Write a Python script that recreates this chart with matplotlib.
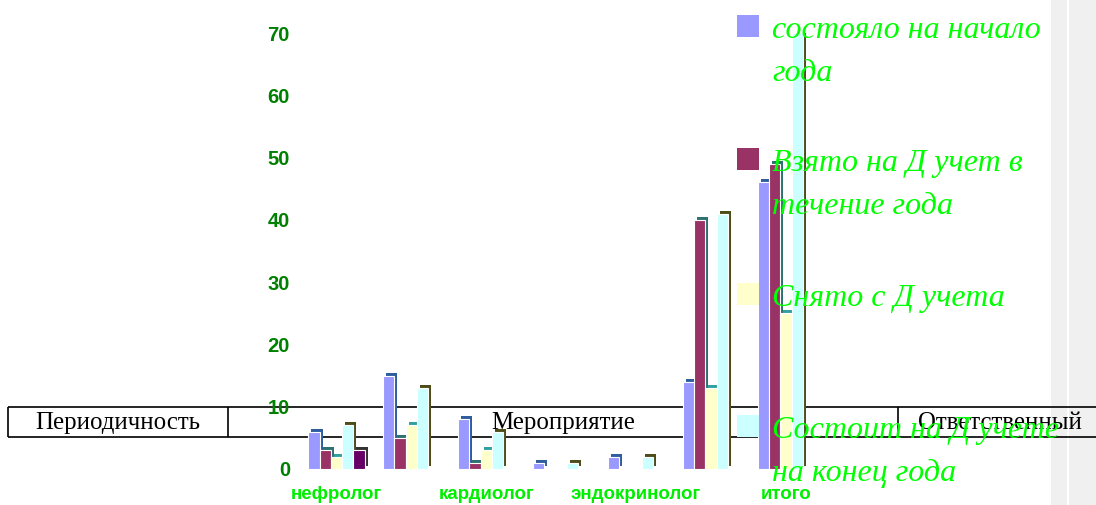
import matplotlib
matplotlib.use('Agg')
import matplotlib.pyplot as plt
from matplotlib.patches import Rectangle
import numpy as np

W, H = 1096, 505

# Chart data
categories = ['нефролог', '', 'кардиолог', '', 'эндокринолог', '', 'итого']
series_names = ['состояло на начало\nгода',
                'Взято на Д учет в\nтечение года',
                'Снято с Д учета',
                'Состоит на Д учете\nна конец года']
start_year = [6, 15, 8, 1, 2, 14, 46]
taken = [3, 5, 1, 0, 0, 40, 49]
removed = [2, 7, 3, 0, 0, 13, 25]
end_year = [7, 13, 6, 1, 2, 41, 70]
extra = [3, 0, 0, 0, 0, 0, 0]  # fifth series, not shown in legend
y_ticks = [0, 10, 20, 30, 40, 50, 60, 70]
table_headers = ['Периодичность', 'Мероприятие', 'Ответственный']

series = [start_year, taken, removed, end_year, extra]
colors = ['#9999FF', '#993366', '#FFFFCC', '#CCFFFF', '#660066']
side_colors = ['#2E5E9E', '#2F7070', '#33A0A0', '#4D4D1A', '#333333']

fig = plt.figure(figsize=(W / 100, H / 100), dpi=100)

# Background: the Word table row and the grey scroll strip
bg = fig.add_axes([0, 0, 1, 1], zorder=0)
bg.set_xlim(0, W)
bg.set_ylim(H, 0)
bg.axis('off')
bg.add_patch(Rectangle((1051, 0), 16, H, color='#F0F0F0', lw=0))
bg.add_patch(Rectangle((1069, 0), 27, H, color='#F0F0F0', lw=0))
bg.hlines([407, 437], 8, W, color='black', lw=1.2)
bg.vlines([8, 228, 898], 407, 437, color='black', lw=1.2)
for xc, txt in zip([118, 563, 1000], table_headers):
    bg.text(xc, 423, txt, ha='center', va='center', fontsize=17.9,
            family='Liberation Serif', color='black')

# The bar chart
ax = fig.add_axes([300 / W, (H - 469) / H, 530 / W, 436 / H], zorder=1)
ax.patch.set_alpha(0)
x = np.arange(len(categories))
w = 0.151
dx, dy = 0.04, 0.48
for i, (vals, c, sc) in enumerate(zip(series, colors, side_colors)):
    vals = np.array(vals, dtype=float)
    xs = x + (i - 2) * w
    m = vals > 0
    ax.bar(xs[m] + dx, vals[m], w, bottom=dy, color=sc, lw=0, zorder=2)
    ax.bar(xs[m], vals[m], w, color=c, edgecolor='white', lw=0.8, zorder=3)

ax.set_xlim((300 - 336.5) / 74.9, (830 - 336.5) / 74.9)
ax.set_ylim(0, 70)
ax.set_yticks(y_ticks)
ax.set_xticks(x)
ax.set_xticklabels(categories)
for s in ax.spines.values():
    s.set_visible(False)
ax.tick_params(axis='y', length=0, pad=7.2, labelsize=14.5, labelcolor='#008000')
ax.tick_params(axis='x', length=0, pad=12.5, labelsize=13.5, labelcolor='#00EE00')
for lab in ax.get_yticklabels() + ax.get_xticklabels():
    lab.set_fontweight('bold')
    lab.set_family('Liberation Sans')

# Legend drawn over everything
ov = fig.add_axes([0, 0, 1, 1], zorder=2)
ov.patch.set_alpha(0)
ov.set_xlim(0, W)
ov.set_ylim(H, 0)
ov.axis('off')
square_tops = [15, 148, 283, 415]
for top, name, c in zip(square_tops, series_names, colors):
    ov.add_patch(Rectangle((737, top), 22, 22, color=c, lw=0))
    for j, line in enumerate(name.split('\n')):
        ov.text(772, top + 23 + j * 43, line, ha='left', va='baseline',
                fontsize=23, style='italic', family='Liberation Serif',
                color='#00FF00')

fig.savefig('out.png', dpi=100)
